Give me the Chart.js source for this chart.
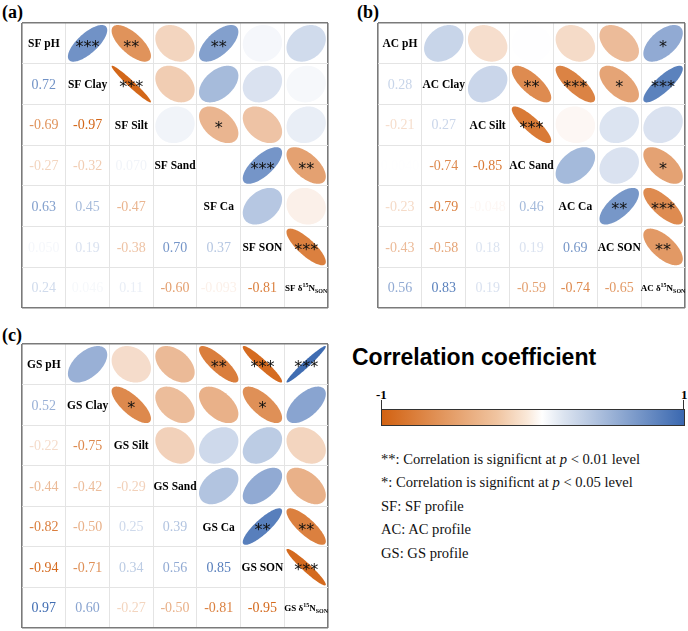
<!DOCTYPE html>
<html><head><meta charset="utf-8">
<script src="https://cdn.jsdelivr.net/npm/chart.js@4.4.0/dist/chart.umd.min.js"></script>
<style>
html,body{margin:0;padding:0;background:#fff;width:688px;height:631px;overflow:hidden;position:relative;}
canvas{position:absolute;}
.pl{position:absolute;font-family:"Liberation Serif",serif;font-weight:bold;font-size:18px;line-height:18px;}
.t{position:absolute;font-family:"Liberation Serif",serif;font-size:14.6px;line-height:16px;white-space:nowrap;color:#111;}
#title{position:absolute;left:352px;top:344px;font-family:"Liberation Sans",Arial,sans-serif;font-weight:bold;font-size:23px;line-height:26px;white-space:nowrap;}
#bar{position:absolute;left:381px;top:409px;width:302px;height:15px;border:1px solid #333;border-top:1.5px solid #333;
 background:linear-gradient(to right,rgb(210,98,18),rgb(240,196,160) 38%,rgb(250,232,216) 48%,#ffffff 53%,rgb(220,228,240) 60%,rgb(58,104,176));}
.tick{position:absolute;width:1px;height:9px;background:#333;top:400px;}
.tl{position:absolute;font-family:"Liberation Serif",serif;font-weight:bold;font-size:13px;line-height:13px;top:388px;}
</style></head><body>
<div class="pl" style="left:2px;top:3px">(a)</div>
<div class="pl" style="left:357px;top:3px">(b)</div>
<div class="pl" style="left:2px;top:326px">(c)</div>
<canvas id="ca" width="318" height="297" style="left:16px;top:17px"></canvas>
<canvas id="cb" width="319" height="297" style="left:372px;top:17px"></canvas>
<canvas id="cc" width="318" height="296" style="left:16px;top:338px"></canvas>
<div id="title">Correlation coefficient</div>
<div class="tick" style="left:381px"></div>
<div class="tick" style="left:683px"></div>
<div class="tl" style="left:376px">-1</div>
<div class="tl" style="left:681px">1</div>
<div id="bar"></div>
<div class="t" style="left:381px;top:451px">**: Correlation is significnt at <i>p</i> &lt; 0.01 level</div>
<div class="t" style="left:381px;top:474px">*: Correlation is significnt at <i>p</i> &lt; 0.05 level</div>
<div class="t" style="left:381px;top:498px">SF: SF profile</div>
<div class="t" style="left:381px;top:521px">AC: AC profile</div>
<div class="t" style="left:381px;top:545px">GS: GS profile</div>
<script>
// ---------- DATA ----------
const variables = ["pH","Clay","Silt","Sand","Ca","SON","d15N"];
const sfPrefix = "SF", acPrefix = "AC", gsPrefix = "GS";
// lower-triangle correlations, row i holds correlations with variables 0..i-1
const sfLower = [
  [],
  [0.72],
  [-0.69,-0.97],
  [-0.27,-0.32,0.070],
  [0.63,0.45,-0.47,0.001],
  [0.050,0.19,-0.38,0.70,0.37],
  [0.24,0.046,0.11,-0.60,-0.093,-0.81]
];
const acLower = [
  [],
  [0.28],
  [-0.21,0.27],
  [0.0040,-0.74,-0.85],
  [-0.23,-0.79,-0.048,0.46],
  [-0.43,-0.58,0.18,0.19,0.69],
  [0.56,0.83,0.19,-0.59,-0.74,-0.65]
];
const gsLower = [
  [],
  [0.52],
  [-0.22,-0.75],
  [-0.44,-0.42,-0.29],
  [-0.82,-0.50,0.25,0.39],
  [-0.94,-0.71,0.34,0.56,0.85],
  [0.97,0.60,-0.27,-0.50,-0.81,-0.95]
];
// significance markers for upper triangle: [row, col, stars] (1-based)
const sfStars = [[1,2,"***"],[1,3,"**"],[1,5,"**"],[2,3,"***"],[3,5,"*"],[4,6,"***"],[4,7,"**"],[6,7,"***"]];
const acStars = [[1,7,"*"],[2,4,"**"],[2,5,"***"],[2,6,"*"],[2,7,"***"],[3,4,"***"],[4,7,"*"],[5,6,"**"],[5,7,"***"],[6,7,"**"]];
const gsStars = [[1,5,"**"],[1,6,"***"],[1,7,"***"],[2,3,"*"],[2,6,"*"],[5,6,"**"],[5,7,"**"],[6,7,"***"]];

// ---------- HELPERS ----------
const NEG=[210,98,18], POS=[58,104,176];
function col(r){const e=r<0?NEG:POS;const a=Math.min(1,Math.abs(r));
  return 'rgb('+e.map(c=>Math.round(255+(c-255)*a)).join(',')+')';}
function fmt(v){
  const a=Math.abs(v);
  if(a>=0.1) return v.toFixed(2);
  const s=Number(v.toPrecision(2));
  let str=Math.abs(s).toString();
  if(!/e/.test(str) && str.replace('0.','').replace(/^0+/,'').length<2) str=Math.abs(s).toFixed(str.split('.')[1].length+1);
  return (v<0?'-':'')+str;
}
const S=0.9;
const corrPlugin={id:'corr',afterDatasetsDraw(chart){
  const ctx=chart.ctx, xs=chart.scales.x, ys=chart.scales.y;
  const cw=Math.abs(xs.getPixelForValue(1)-xs.getPixelForValue(0));
  const ch=Math.abs(ys.getPixelForValue(1)-ys.getPixelForValue(0));
  ctx.save();
  const m0=chart.getDatasetMeta(0), d0=chart.data.datasets[0].data;
  m0.data.forEach((el,i)=>{
    const v=d0[i].v, dd=Math.acos(Math.max(-0.999,Math.min(0.999,v)));
    ctx.beginPath();
    for(let k=0;k<=120;k++){const t=2*Math.PI*k/120;
      const px=el.x+Math.cos(t+dd/2)*cw*S/2, py=el.y-Math.cos(t-dd/2)*ch*S/2;
      k?ctx.lineTo(px,py):ctx.moveTo(px,py);}
    ctx.closePath(); ctx.fillStyle=col(v); ctx.fill();
    if(d0[i].sig){ctx.fillStyle='#111';ctx.font='16px "DejaVu Sans"';ctx.textAlign='center';ctx.textBaseline='middle';
      ctx.fillText(d0[i].sig,el.x,el.y+4);}
  });
  const m1=chart.getDatasetMeta(1), d1=chart.data.datasets[1].data;
  ctx.font='14px "Liberation Serif"';ctx.textAlign='center';ctx.textBaseline='middle';
  m1.data.forEach((el,i)=>{ctx.fillStyle=col(d1[i].v);ctx.fillText(fmt(d1[i].v),el.x,el.y+1);});
  const m2=chart.getDatasetMeta(2), d2=chart.data.datasets[2].data;
  m2.data.forEach((el,i)=>{
    const lab=d2[i].label; ctx.fillStyle='#000';
    if(lab.endsWith('d15N')){
      const pre=lab.replace('d15N','δ');
      const f1='bold 9px "Liberation Serif"', f2='bold 6px "Liberation Serif"';
      ctx.font=f1; const w1=ctx.measureText(pre).width, w3=ctx.measureText('N').width;
      ctx.font=f2; const w2=ctx.measureText('15').width, w4=ctx.measureText('SON').width;
      let x=el.x-(w1+w2+w3+w4)/2; ctx.textAlign='left';ctx.textBaseline='alphabetic';
      const by=el.y+3;
      ctx.font=f1; ctx.fillText(pre,x,by); x+=w1;
      ctx.font=f2; ctx.fillText('15',x,by-3.5); x+=w2;
      ctx.font=f1; ctx.fillText('N',x,by); x+=w3;
      ctx.font=f2; ctx.fillText('SON',x,by+2.5);
    } else {
      ctx.font='bold 11.5px "Liberation Serif"';ctx.textAlign='center';ctx.textBaseline='middle';
      ctx.fillText(lab,el.x,el.y+1);
    }
  });
  ctx.restore();
}};

function build(id,prefix,lower,stars){
  const n=variables.length;
  const upper=[], nums=[], diag=[];
  for(let i=0;i<n;i++){
    for(let j=0;j<i;j++) nums.push({x:j+1,y:i+1,v:lower[i][j]});
    diag.push({x:i+1,y:i+1,label:prefix+' '+variables[i]});
    for(let j=i+1;j<n;j++){
      const st=stars.find(s=>s[0]===i+1&&s[1]===j+1);
      upper.push({x:j+1,y:i+1,v:lower[j][i],sig:st?st[2]:''});
    }
  }
  const edge=v=>v===0.5||v===n+0.5;
  const gridOpt={color:c=>edge(c.tick.value)?'#7a7a7a':'#e4e4e4',lineWidth:c=>edge(c.tick.value)?1.6:1,drawTicks:false};
  const tickSet=a=>{a.ticks=[];for(let k=0;k<=n;k++)a.ticks.push({value:k+0.5});};
  new Chart(document.getElementById(id),{
    type:'scatter',
    data:{datasets:[
      {data:upper,pointRadius:0},
      {data:nums,pointRadius:0},
      {data:diag,pointRadius:0}
    ]},
    options:{responsive:false,animation:false,events:[],
      layout:{padding:6},
      plugins:{legend:{display:false},tooltip:{enabled:false}},
      scales:{
        x:{type:'linear',min:0.5,max:n+0.5,afterBuildTicks:tickSet,afterFit:s=>{s.height=0;},
           ticks:{display:false},grid:gridOpt,border:{display:false}},
        y:{type:'linear',min:0.5,max:n+0.5,reverse:true,afterBuildTicks:tickSet,afterFit:s=>{s.width=0;},
           ticks:{display:false},grid:gridOpt,border:{display:false}}
      }},
    plugins:[corrPlugin]
  });
}
build('ca',sfPrefix,sfLower,sfStars);
build('cb',acPrefix,acLower,acStars);
build('cc',gsPrefix,gsLower,gsStars);
</script>
</body></html>
